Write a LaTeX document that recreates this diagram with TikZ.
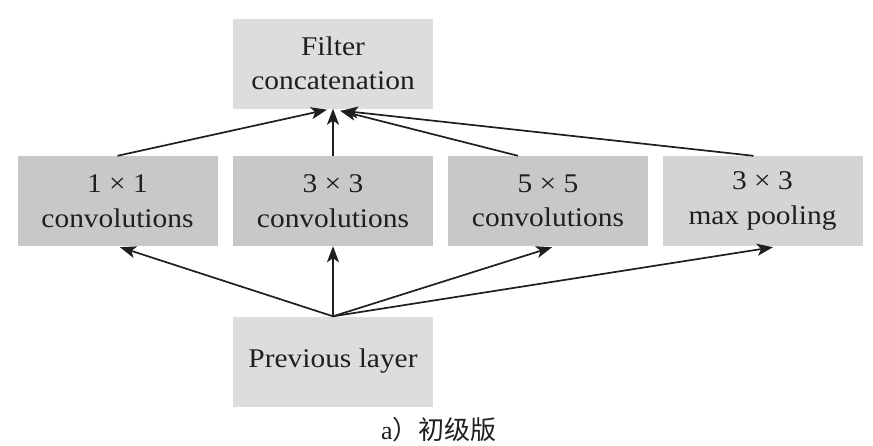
\documentclass[tikz,border=0pt]{standalone}
\usepackage{fontspec}
\setmainfont{Liberation Serif}
\newfontfamily\serifx{Liberation Serif}[FakeStretch=1.09]
\newfontfamily\cjk{Noto Sans CJK SC}
\usetikzlibrary{arrows.meta,calc}
\definecolor{lightbox}{gray}{0.865}
\definecolor{darkbox}{gray}{0.785}
\definecolor{midbox}{gray}{0.83}
\definecolor{inkc}{gray}{0.12}
\begin{document}
\begin{tikzpicture}[x=1pt,y=-1pt,
  box/.style={minimum width=200pt,minimum height=90pt,inner sep=0pt,align=center,
    font=\serifx\fontsize{27}{34.5}\selectfont,text=inkc},
  ar/.style={-{Stealth[length=16pt,width=12pt,inset=4pt]},line width=1.7pt,draw=inkc}]
\useasboundingbox (0,0) rectangle (873,445);
\node[box,fill=lightbox] (fc) at (333,63.5) {Filter\\concatenation};
\node[box,fill=darkbox] (m1) at (117.5,201) {1 × 1\\convolutions};
\node[box,fill=darkbox] (m2) at (333,201) {3 × 3\\convolutions};
\node[box,fill=darkbox] (m3) at (548,201) {5 × 5\\convolutions};
\node[box,fill=midbox] (m4) at (762.5,201) {3 × 3\\max pooling};
\node[box,fill=lightbox] (prev) at (333,361.5) {Previous layer};
\node[font=\fontsize{26}{30}\selectfont,text=inkc,inner sep=0pt] (cap) at (439,430) {a{\cjk）初级版}};
% upward connectors
\draw[ar] (m1.north) -- ($(fc.south)+(-6,1)$);
\draw[ar] (m2.north) -- (fc.south);
\draw[ar] ($(m3.north)+(-30,0)$) -- ($(fc.south)+(7,2)$);
\draw[ar] ($(m4.north)+(-9,0)$) -- ($(fc.south)+(9,2)$);
% from previous layer
\draw[ar] (prev.north) -- ($(m1.south)+(2.5,1)$);
\draw[ar] (prev.north) -- (m2.south);
\draw[ar] (prev.north) -- ($(m3.south)+(4,1)$);
\draw[ar] (prev.north) -- ($(m4.south)+(10.5,1)$);
\end{tikzpicture}
\end{document}
